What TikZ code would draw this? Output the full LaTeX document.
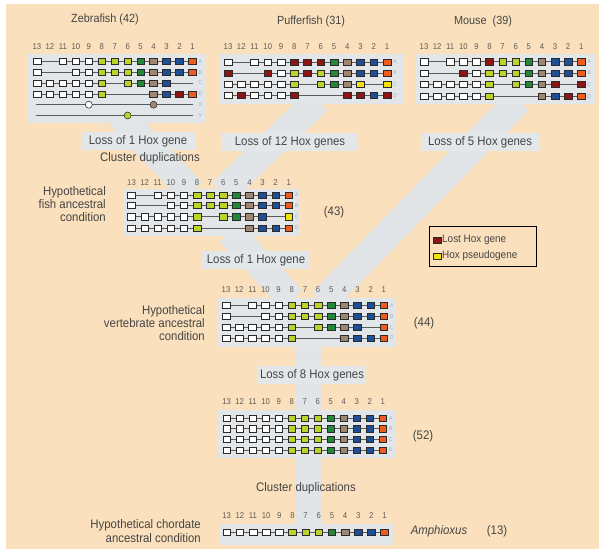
\documentclass[tikz,border=0pt]{standalone}
\usepackage{fontspec}
\setmainfont[FakeStretch=0.92]{Liberation Sans}
\definecolor{bgpeach}{HTML}{FAE0BC}
\definecolor{band}{HTML}{E1E5E7}
\definecolor{panel}{HTML}{E3E6E8}
\definecolor{lossfill}{HTML}{E4E7E9}
\definecolor{lime}{HTML}{BCD42A}
\definecolor{hoxgreen}{HTML}{23873A}
\definecolor{hoxtan}{HTML}{9E8670}
\definecolor{hoxblue}{HTML}{1E4E96}
\definecolor{hoxorange}{HTML}{EE5B1E}
\definecolor{lostred}{HTML}{8C1616}
\definecolor{pseudo}{HTML}{F0E20A}
\definecolor{ink}{HTML}{454545}
\definecolor{numink}{HTML}{5E5A55}
\definecolor{rowink}{HTML}{9AB0BE}
\definecolor{geneedge}{HTML}{2A2A2A}
\definecolor{lineink}{HTML}{5A5A5A}
% default colour of each position, gene 13 (1) to gene 1 (13)
\colorlet{hoxc1}{white}\colorlet{hoxc2}{white}\colorlet{hoxc3}{white}
\colorlet{hoxc4}{white}\colorlet{hoxc5}{white}
\colorlet{hoxc6}{lime}\colorlet{hoxc7}{lime}\colorlet{hoxc8}{lime}
\colorlet{hoxc9}{hoxgreen}\colorlet{hoxc10}{hoxtan}
\colorlet{hoxc11}{hoxblue}\colorlet{hoxc12}{hoxblue}\colorlet{hoxc13}{hoxorange}
\newcommand\hoxtxt{\fontsize{12.4}{13}\selectfont}
\newcommand\hoxtitle{\fontsize{11.8}{13}\selectfont}
\tikzset{
  gene/.style={rectangle, draw=geneedge, line width=0.55pt, minimum width=7.6pt,
    minimum height=6.2pt, inner sep=0pt},
  hoxdot/.style={circle, draw=geneedge, line width=0.55pt, minimum size=7pt, inner sep=0pt},
  hoxline/.style={draw=lineink, line width=0.8pt},
  numlab/.style={font=\fontsize{8.4}{9}\selectfont, text=numink, inner sep=0pt},
  rowlab/.style={font=\fontsize{5.5}{6}\selectfont, text=rowink, inner sep=0pt},
  panelbox/.style={fill=panel, inner sep=0pt},
  bandline/.style={draw=band, line width=28pt},
  lossbox/.style={fill=lossfill, inner sep=0pt, minimum height=18pt, font=\hoxtxt, text=ink},
  plaintxt/.style={font=\hoxtxt, text=ink, inner sep=0pt},
  titletxt/.style={font=\hoxtitle, text=ink, inner sep=0pt},
  sidelab/.style={font=\hoxtxt, text=ink, inner sep=0pt, align=right, anchor=east},
}
% gene numbers above a set of clusters: name, x of gene 13, spacing, y
\newcommand\hoxnumbers[4]{%
  \foreach \n [count=\i] in {13,12,...,1}
    \node[numlab] (#1-n\i) at ({#2+(\i-1)*#3},#4) {\n};
}
% one cluster: name, x of gene 13, spacing, y, letter, codes
% codes: 0 absent, 1 present, 2 lost, 3 pseudogene
\newcommand\hoxrow[6]{%
  \coordinate (#1-s) at ({#2-1},#4);
  \coordinate (#1-e) at ({#2+12*#3+1},#4);
  \draw[hoxline] (#1-s) -- (#1-e);
  \foreach \c [count=\i] in {#6} {
    \ifcase\c\relax
    \or \node[gene, fill=hoxc\i] (#1-\i) at ({#2+(\i-1)*#3},#4) {};
    \or \node[gene, fill=lostred] (#1-\i) at ({#2+(\i-1)*#3},#4) {};
    \or \node[gene, fill=pseudo] (#1-\i) at ({#2+(\i-1)*#3},#4) {};
    \fi
  }
  \node[rowlab] (#1-lab) at ({#2+12*#3+8},#4) {#5};
}
\begin{document}
\begin{tikzpicture}[x=1pt,y=-1pt]
\useasboundingbox (0,0) rectangle (599,549);
\fill[bgpeach] (6,4) rectangle (599,549);

% tree branches
\coordinate (bz1) at (120,116); \coordinate (bz2) at (192,192);
\coordinate (bp1) at (318,100); \coordinate (bp2) at (222,192);
\coordinate (bf1) at (230,232); \coordinate (bf2) at (292,300);
\coordinate (bm1) at (519,100); \coordinate (bm2) at (322,302);
\coordinate (bt1) at (309,300); \coordinate (bt2) at (309,530);
\draw[bandline] (bz1) -- (bz2);
\draw[bandline] (bp1) -- (bp2);
\draw[bandline] (bf1) -- (bf2);
\draw[bandline] (bm1) -- (bm2);
\draw[bandline, line width=26pt] (bt1) -- (bt2);

% panels
\node[panelbox, minimum width=177pt, minimum height=69pt] (zebra) at (116.5,88.5) {};
\node[panelbox, minimum width=185pt, minimum height=50pt] (puffer) at (311.5,79) {};
\node[panelbox, minimum width=180pt, minimum height=50pt] (mouse) at (506,79) {};
\node[panelbox, minimum width=176pt, minimum height=47pt] (fishanc) at (212,212.5) {};
\node[panelbox, minimum width=178pt, minimum height=49pt] (vertanc) at (306,322.5) {};
\node[panelbox, minimum width=178pt, minimum height=48pt] (four) at (306,434) {};
\node[panelbox, minimum width=174pt, minimum height=21pt] (amph) at (306,534.5) {};

% titles
\node[titletxt] (t-zebra) at (105,19) {Zebrafish (42)};
\node[titletxt] (t-puffer) at (311,21) {Pufferfish (31)};
\node[titletxt] (t-mouse) at (483,21) {Mouse\ \ (39)};

% zebrafish
\hoxnumbers{zn}{37}{12.95}{47}
\hoxrow{zA}{37}{12.95}{61.5}{A}{1,0,1,1,1,1,1,1,1,1,1,1,1}
\hoxrow{zB}{37}{12.95}{72.3}{B}{1,0,0,1,1,1,1,1,1,1,1,1,1}
\hoxrow{zC}{37}{12.95}{83.1}{C}{1,1,1,1,1,1,0,1,1,1,1,0,0}
\hoxrow{zD}{37}{12.95}{93.9}{D}{1,1,1,1,1,1,0,0,0,1,1,2,1}
\hoxrow{zX}{37}{12.95}{104.7}{X}{0,0,0,0,0,0,0,0,0,0,0,0,0}
\hoxrow{zY}{37}{12.95}{115.5}{Y}{0,0,0,0,0,0,0,0,0,0,0,0,0}
\node[hoxdot, fill=white] (zX-5) at ({37+4*12.95},104.7) {};
\node[hoxdot, fill=hoxtan] (zX-10) at ({37+9*12.95},104.7) {};
\node[hoxdot, fill=lime] (zY-8) at ({37+7*12.95},115.5) {};

% pufferfish
\hoxnumbers{pn}{228}{13.25}{47}
\hoxrow{pA}{228}{13.25}{62}{A}{1,0,1,1,1,2,2,2,1,1,1,1,1}
\hoxrow{pB}{228}{13.25}{73}{B}{2,0,0,2,1,1,2,1,1,1,1,1,1}
\hoxrow{pC}{228}{13.25}{84.2}{C}{1,1,1,1,1,1,0,1,1,1,3,0,3}
\hoxrow{pD}{228}{13.25}{95.4}{D}{1,2,1,1,1,2,0,0,0,2,2,1,2}

% mouse
\hoxnumbers{mn}{424}{13.1}{47}
\hoxrow{mA}{424}{13.1}{61.8}{A}{1,0,1,1,1,2,1,1,1,1,1,1,1}
\hoxrow{mB}{424}{13.1}{73}{B}{1,0,0,2,1,1,1,1,1,1,1,1,1}
\hoxrow{mC}{424}{13.1}{84.6}{C}{1,1,1,1,1,1,0,1,1,1,2,0,2}
\hoxrow{mD}{424}{13.1}{96.2}{D}{1,1,1,1,1,1,0,0,0,1,1,2,1}

% branch labels
\node[lossbox, minimum width=113pt] (loss-z) at (138,141) {Loss of 1 Hox gene};
\node[plaintxt] (dup-1) at (150,158) {Cluster duplications};
\node[lossbox, minimum width=136pt] (loss-p) at (290,142) {Loss of 12 Hox genes};
\node[lossbox, minimum width=118pt] (loss-m) at (480,142) {Loss of 5 Hox genes};

% fish ancestor
\node[sidelab] (l-fish) at (106,204) {Hypothetical\\fish ancestral\\condition};
\hoxnumbers{fn}{131.5}{13.1}{183}
\hoxrow{fA}{131.5}{13.1}{195}{A}{1,0,1,1,1,1,1,1,1,1,1,1,1}
\hoxrow{fB}{131.5}{13.1}{205.5}{B}{1,0,0,1,1,1,1,1,1,1,1,1,1}
\hoxrow{fC}{131.5}{13.1}{216.8}{C}{1,1,1,1,1,1,0,1,1,1,1,0,3}
\hoxrow{fD}{131.5}{13.1}{228}{D}{1,1,1,1,1,1,0,0,0,1,1,1,1}
\node[plaintxt] (c-fish) at (334,212) {(43)};

% legend
\node[draw=black, line width=0.8pt, minimum width=107pt, minimum height=40pt, inner sep=0pt]
  (legend) at (482.5,246) {};
\node[gene, fill=lostred] (lg-lost) at (437,240) {};
\node[plaintxt, anchor=west, font=\fontsize{10.8}{12}\selectfont] (lg-lost-t) at (442,240) {Lost Hox gene};
\node[gene, fill=pseudo] (lg-pseudo) at (437,256) {};
\node[plaintxt, anchor=west, font=\fontsize{10.8}{12}\selectfont] (lg-pseudo-t) at (442,256) {Hox pseudogene};

\node[lossbox, minimum width=108pt] (loss-f) at (256,260) {Loss of 1 Hox gene};

% vertebrate ancestor
\node[sidelab] (l-vert) at (205,323) {Hypothetical\\vertebrate ancestral\\condition};
\hoxnumbers{vn}{226}{13.15}{290}
\hoxrow{vA}{226}{13.15}{305.5}{A}{1,0,1,1,1,1,1,1,1,1,1,1,1}
\hoxrow{vB}{226}{13.15}{316.3}{B}{1,0,0,1,1,1,1,1,1,1,1,1,1}
\hoxrow{vC}{226}{13.15}{327.2}{C}{1,1,1,1,1,1,0,1,1,1,1,0,1}
\hoxrow{vD}{226}{13.15}{338}{D}{1,1,1,1,1,1,0,0,0,1,1,1,1}
\node[plaintxt] (c-vert) at (424,323) {(44)};

\node[lossbox, minimum width=108pt] (loss-v) at (312,375) {Loss of 8 Hox genes};

% four complete clusters
\hoxnumbers{qn}{226.7}{13.0}{402}
\hoxrow{qA}{226.7}{13.0}{418.3}{A}{1,1,1,1,1,1,1,1,1,1,1,1,1}
\hoxrow{qB}{226.7}{13.0}{428.8}{B}{1,1,1,1,1,1,1,1,1,1,1,1,1}
\hoxrow{qC}{226.7}{13.0}{439.3}{C}{1,1,1,1,1,1,1,1,1,1,1,1,1}
\hoxrow{qD}{226.7}{13.0}{450}{D}{1,1,1,1,1,1,1,1,1,1,1,1,1}
\node[plaintxt] (c-four) at (423,436) {(52)};

\node[plaintxt] (dup-2) at (306,488) {Cluster duplications};

% chordate ancestor
\node[sidelab, font=\fontsize{12.4}{14}\selectfont] (l-chord) at (201,531) {Hypothetical chordate\\ancestral condition};
\hoxnumbers{an}{226.7}{13.15}{516}
\hoxrow{aA}{226.7}{13.15}{532.3}{}{1,1,1,1,1,1,1,1,1,1,1,1,1}
\node[plaintxt, font=\hoxtxt\itshape] (amph-t) at (439,531) {Amphioxus};
\node[plaintxt] (c-amph) at (497,531) {(13)};
\end{tikzpicture}
\end{document}
